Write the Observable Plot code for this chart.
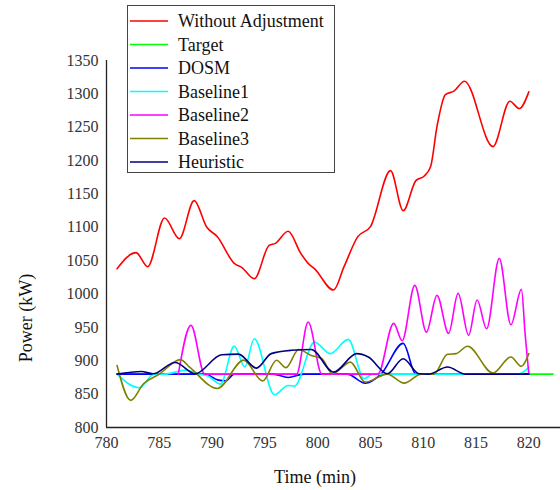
<!DOCTYPE html>
<html>
<head>
<meta charset="utf-8">
<script src="https://cdn.jsdelivr.net/npm/d3@7"></script>
<script src="https://cdn.jsdelivr.net/npm/@observablehq/plot@0.6"></script>
<style>
  html, body { margin: 0; padding: 0; background: #fff; }
  #chart { width: 560px; height: 490px; }
  #chart svg text { font-family: "Liberation Serif", "Times New Roman", serif !important; }
</style>
</head>
<body>
<div id="chart"></div>
<script>
// Series labels and colours, in drawing order
const seriesNames = ["Without Adjustment", "Target", "DOSM", "Baseline1", "Baseline2", "Baseline3", "Heuristic"];
const seriesColors = ["#ff0000", "#00ff00", "#0000ff", "#00ffff", "#ff00ff", "#808000", "#000080"];

// Tick values
const xTicks = [780, 785, 790, 795, 800, 805, 810, 815, 820];
const yTicks = [800, 850, 900, 950, 1000, 1050, 1100, 1150, 1200, 1250, 1300, 1350];

// Power (kW) over time (min)
const tWithout = [781, 782.8, 783.9, 785.5, 786.9, 788.3, 789.5, 790.5, 792.1, 792.8, 794.0, 795.4, 796.0, 797.2, 798.4, 799.1, 799.7, 801.5, 802.5, 803.8, 805.0, 806.9, 808.1, 809.3, 810.1, 810.7, 811.3, 812.1, 812.9, 813.9, 816.6, 818.2, 819.1, 820.0];
const pWithout = [1038, 1062, 1041, 1114, 1083, 1140, 1100, 1086, 1046, 1040, 1023, 1073, 1076, 1094, 1061, 1046, 1038, 1006, 1041, 1086, 1101, 1185, 1125, 1170, 1177, 1191, 1251, 1299, 1304, 1319, 1221, 1289, 1278, 1303];

const tTarget = [781, 822.3];
const pTarget = [880, 880];

const tDOSM = [781, 789.3, 790.6, 791.3, 792.1, 795.8, 797.2, 798.7, 802.8, 804.5, 806.0, 808.1, 809.3, 820];
const pDOSM = [880, 880, 871, 870, 880, 880, 875, 880, 880, 866.5, 880, 926, 880, 880];

const tBase1 = [781, 783.1, 784.5, 785.5, 787.5, 788.7, 789.6, 790.8, 792.1, 793.1, 794.0, 795.9, 797.2, 797.8, 799.7, 801.2, 802.9, 804.4, 805.2, 819.0, 820];
const pBase1 = [880, 859.6, 880, 880, 886, 880, 877, 865, 922, 890.6, 933, 849, 863, 862, 928, 910.7, 932, 873, 880, 880, 890];

const tBase2 = [786.8, 788.0, 789.3, 798.0, 799.1, 800.4, 805.7, 807.2, 808.0, 809.2, 810.3, 811.3, 812.4, 813.3, 814.3, 815.1, 816.0, 817.2, 818.3, 819.3, 819.65, 820.0];
const pBase2 = [880, 953, 880, 880, 958, 880, 880, 956, 930, 1013, 943, 998, 941, 1001, 938, 991, 948, 1053.5, 954, 1007, 940, 880];

const tBase3 = [781, 782.3, 783.5, 785.0, 787.0, 787.9, 790.5, 793.0, 794.8, 796.1, 797.0, 798.2, 799.4, 800.4, 801.4, 803.1, 804.5, 806.6, 808.2, 809.8, 811.0, 812.3, 813.1, 814.2, 816.6, 818.3, 819.3, 820.0];
const pBase3 = [893, 840.6, 865.5, 880, 901.7, 890, 858.5, 901, 869.6, 900.7, 889.7, 916.8, 908, 903, 880.5, 898, 868, 880, 866.5, 880, 880, 909.7, 910.7, 921.7, 881.6, 905.6, 891.7, 910.7];

const tHeur = [781, 783.3, 784.4, 786.5, 788.4, 790.9, 792.5, 794.2, 795.6, 797.5, 799.4, 801.5, 803.7, 804.8, 806.6, 808.1, 809.6, 810.5, 812.3, 814.0, 820];
const pHeur = [880, 884, 880.5, 897.5, 880.5, 909, 910, 889, 910.7, 915.7, 917, 883, 910.7, 905.6, 880.6, 903, 880.5, 880, 890.6, 880, 880];

const times = [tWithout, tTarget, tDOSM, tBase1, tBase2, tBase3, tHeur];
const powers = [pWithout, pTarget, pDOSM, pBase1, pBase2, pBase3, pHeur];

const rows = seriesNames.flatMap((name, i) =>
  times[i].map((t, j) => ({series: name, time: t, power: powers[i][j]}))
);

const W = 560, H = 490;

const chart = Plot.plot({
  width: W,
  height: H,
  marginLeft: 106,
  marginRight: 0,
  marginTop: 60,
  marginBottom: 63,
  style: {fontSize: "16px", color: "#333", background: "#fff"},
  x: {domain: [780, 823]},
  y: {domain: [800, 1350]},
  color: {domain: seriesNames, range: seriesColors},
  marks: [
    Plot.axisX({ticks: xTicks, tickSize: 0, tickPadding: 9, label: null, fontSize: 16,
      tickFormat: d => String(d)}),
    Plot.axisY({ticks: yTicks, tickSize: 0, tickPadding: 8, label: null, fontSize: 16,
      tickFormat: d => String(d)}),
    Plot.ruleY([800], {stroke: "#222", strokeWidth: 1.3}),
    Plot.ruleX([780], {y1: 800, y2: 1350, stroke: "#222", strokeWidth: 1.3}),
    Plot.line(rows, {
      x: "time", y: "power", z: "series", stroke: "series",
      curve: "monotone-x", strokeWidth: 1.6
    })
  ]
});

document.getElementById("chart").appendChild(chart);

const svg = d3.select(chart);

// Axis titles
svg.append("text")
  .attr("x", 315).attr("y", 477)
  .attr("text-anchor", "middle").attr("dominant-baseline", "central")
  .attr("font-size", 18).attr("fill", "#111")
  .text("Time (min)");

svg.append("text")
  .attr("transform", "translate(26,318) rotate(-90)")
  .attr("text-anchor", "middle").attr("dominant-baseline", "central")
  .attr("font-size", 18).attr("fill", "#111")
  .text("Power (kW)");

// Legend box
const legend = svg.append("g").attr("text-anchor", "start");
legend.append("rect")
  .attr("x", 127.5).attr("y", 5.5).attr("width", 207).attr("height", 167)
  .attr("fill", "#fff").attr("stroke", "#444").attr("stroke-width", 1);

seriesNames.forEach((name, i) => {
  const cy = 21 + i * 23.5;
  legend.append("line")
    .attr("x1", 130).attr("x2", 168).attr("y1", cy).attr("y2", cy)
    .attr("stroke", seriesColors[i]).attr("stroke-width", 1.6);
  legend.append("text")
    .attr("x", 178).attr("y", cy)
    .attr("text-anchor", "start")
    .attr("dominant-baseline", "central")
    .attr("font-size", 18).attr("fill", "#111")
    .text(name);
});
</script>
</body>
</html>
